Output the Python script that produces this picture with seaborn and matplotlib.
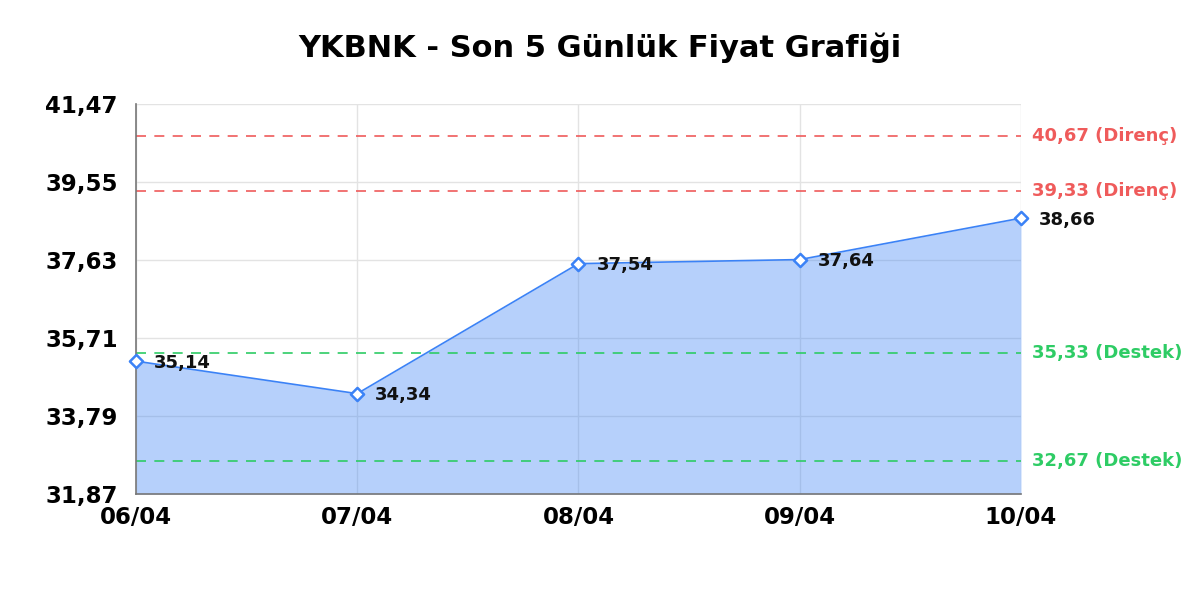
import numpy as np
import matplotlib
matplotlib.use('Agg')
import matplotlib.pyplot as plt
import seaborn as sns
import pandas as pd

# data
dates = ['06/04', '07/04', '08/04', '09/04', '10/04']
prices = [35.14, 34.34, 37.54, 37.64, 38.66]
resistance = [40.67, 39.33]
support = [35.33, 32.67]
y_ticks = [31.87, 33.79, 35.71, 37.63, 39.55, 41.47]

df = pd.DataFrame({'idx': range(len(dates)), 'price': prices})

sns.set_style('white')
plt.rcParams['font.family'] = ['DejaVu Sans']
plt.rcParams['text.color'] = 'black'
plt.rcParams['xtick.color'] = 'black'
plt.rcParams['ytick.color'] = 'black'

line_c = '#3b82f6'
red_c = '#ef5b5b'
green_c = '#2ecc65'
fam = ['DejaVu Sans']

fig = plt.figure(figsize=(12, 6), dpi=100)
ax = fig.add_axes([0.1133, 0.1767, 0.7375, 0.65])

ax.fill_between(df['idx'], df['price'], y_ticks[0], color=line_c, alpha=0.37,
                linewidth=0, zorder=1)
sns.lineplot(data=df, x='idx', y='price', ax=ax, color=line_c, linewidth=1.2, zorder=3)
ax.scatter(df['idx'], df['price'], marker='D', s=45, facecolor='white',
           edgecolor=line_c, linewidth=1.8, zorder=4, clip_on=False)

for i, p in enumerate(prices):
    ax.annotate(f'{p:.2f}'.replace('.', ','), (i, p), xytext=(13, -1),
                textcoords='offset points', ha='left', va='center',
                fontsize=13, fontweight='bold', color='#111111', zorder=5,
                annotation_clip=False, family=fam)

for v in resistance:
    ax.axhline(v, color=red_c, linestyle=(0, (6, 5)), linewidth=1.2, zorder=2)
    ax.annotate(f'{v:.2f}'.replace('.', ',') + ' (Direnç)', (1, v),
                xycoords=('axes fraction', 'data'), xytext=(8, 0),
                textcoords='offset points', va='center', ha='left',
                fontsize=13, fontweight='bold', color=red_c, family=fam)
for v in support:
    ax.axhline(v, color=green_c, linestyle=(0, (6, 5)), linewidth=1.2, zorder=2)
    ax.annotate(f'{v:.2f}'.replace('.', ',') + ' (Destek)', (1, v),
                xycoords=('axes fraction', 'data'), xytext=(8, 0),
                textcoords='offset points', va='center', ha='left',
                fontsize=13, fontweight='bold', color=green_c, family=fam)

ax.set_xlim(0, len(dates) - 1)
ax.set_ylim(y_ticks[0], y_ticks[-1])
ax.set_xticks(range(len(dates)))
ax.set_xticklabels(dates)
ax.set_yticks(y_ticks)
ax.set_yticklabels([f'{t:.2f}'.replace('.', ',') for t in y_ticks])
ax.grid(True, color='#e3e3e3', linewidth=1, zorder=0)
ax.set_axisbelow(True)
for lbl in ax.get_xticklabels() + ax.get_yticklabels():
    lbl.set_fontweight('bold')
    lbl.set_fontsize(16.5)
    lbl.set_family(fam)
ax.tick_params(axis='x', length=0, pad=9)
ax.tick_params(axis='y', length=0, pad=13)
ax.set_xlabel('')
ax.set_ylabel('')

for s in ['top', 'right']:
    ax.spines[s].set_visible(False)
for s in ['left', 'bottom']:
    ax.spines[s].set_color('#777777')
    ax.spines[s].set_linewidth(1.2)

fig.suptitle('YKBNK - Son 5 Günlük Fiyat Grafiği', fontsize=22, fontweight='bold',
             y=1 - 48 / 600, va='center', color='black', family=fam)

plt.savefig('out.png', dpi=100)
